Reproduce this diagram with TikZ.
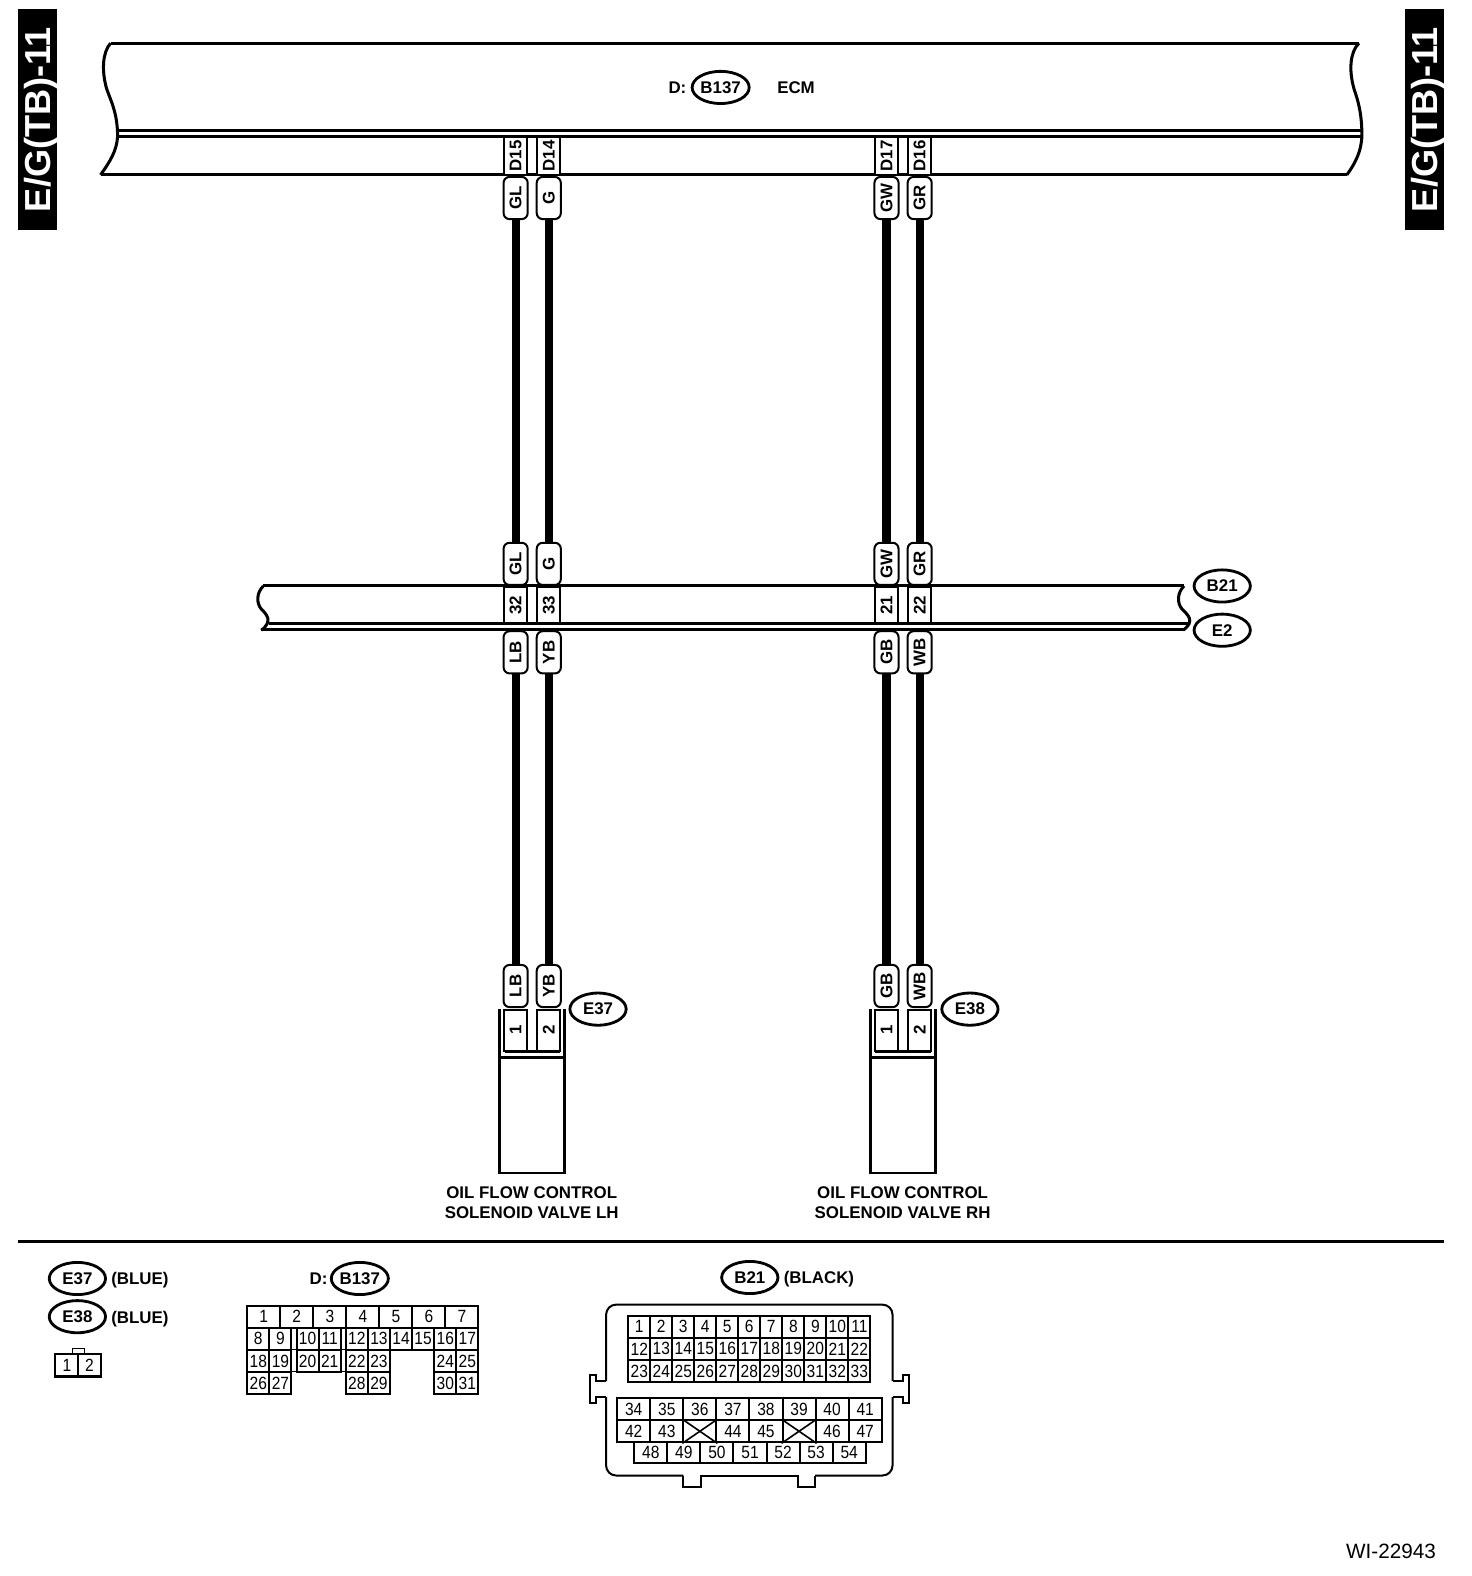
\documentclass[tikz,border=0pt]{standalone}
\usepackage{fontspec}
\setmainfont{Liberation Sans}
\newfontfamily\cellfam[FakeStretch=0.88]{Liberation Sans}
\usetikzlibrary{
  positioning,
  shapes.geometric
}
\newcommand{\lblfont}{\fontsize{8.4}{10}\selectfont\bfseries}
\newcommand{\cellfont}{\cellfam\fontsize{8.8}{10}\selectfont}

\begin{document}
\begin{tikzpicture}[
  x=0.5pt, y=-0.5pt,
  bar/.style={line width=1.5pt},
  frame/.style={line width=1.4pt},
  wire/.style={line width=4pt},
  tagbox/.style={draw, fill=white, line width=1pt, rounded corners=3pt, rotate=90,
                 minimum width=21pt, minimum height=12pt, inner sep=0pt, font=\lblfont},
  pinbox/.style={draw, fill=white, line width=1pt, rotate=90,
                 minimum width=19pt, minimum height=11.5pt, inner sep=0pt, font=\lblfont},
  oval/.style={draw, ellipse, line width=1.4pt, minimum width=28pt, minimum height=16pt,
               inner sep=0pt, font=\lblfont},
  lbl/.style={inner sep=0pt, align=center, font=\lblfont},
  side/.style={fill=black, text=white, rotate=90, minimum width=110pt, minimum height=19.5pt,
               text height=12.9pt, text depth=0pt,
               inner sep=0pt, font=\fontsize{18}{20}\selectfont\bfseries},
  cell/.style={draw, line width=1pt, minimum height=11pt, inner sep=0pt, font=\cellfont}
]
\useasboundingbox (0,0) rectangle (1464.5,1568);

% Side tabs
\node[side] (tabL) at (37.5,119) {E/G(TB)-11};
\node[side] (tabR) at (1417,119) {E/G(TB)-11};

% ECM bar
\draw[bar] (110,43) -- (1352,43);
\draw[bar] (117,130) -- (1355,130);
\draw[bar] (117,136) -- (1355,136);
\draw[bar] (100,174) -- (1340,174);
\draw[bar] (110,43) .. controls (102,52) and (101,70) .. (106,88) .. controls (110,100) and (117,112) .. (117,136) .. controls (116,150) and (110,160) .. (100,174);
\draw[bar] (1352,43) .. controls (1343,52) and (1342,70) .. (1347,88) .. controls (1351,100) and (1355,112) .. (1355,136) .. controls (1354,150) and (1350,160) .. (1340,174);
\node[lbl] (ecmD) at (674,87) {D:};
\node[oval] (ecmB137) at (717,87) {B137};
\node[lbl] (ecm) at (792,87) {ECM};

% Joint bar
\draw[bar] (262,583) -- (1178,583);
\draw[bar] (268,620) -- (1183,620);
\draw[bar] (260,626) -- (1177,626);
\draw[bar] (262,583) .. controls (255,590) and (255,600) .. (260,606) .. controls (265,611) and (272,618) .. (260,627);
\draw[bar] (1178,583) .. controls (1171,590) and (1171,600) .. (1176,606) .. controls (1181,611) and (1190,618) .. (1177,627);
\node[oval] (b21) at (1216,583) {B21};
\node[oval] (e2) at (1216,627) {E2};

% ECM pins
\node[pinbox] (d15) at (513,155) {D15};
\node[pinbox] (d14) at (546,155) {D14};
\node[pinbox] (d17) at (882,155) {D17};
\node[pinbox] (d16) at (915,155) {D16};

% Joint pins
\node[pinbox, minimum width=18pt] (p32) at (513,602) {32};
\node[pinbox, minimum width=18pt] (p33) at (546,602) {33};
\node[pinbox, minimum width=18pt] (p21) at (882,602) {21};
\node[pinbox, minimum width=18pt] (p22) at (915,602) {22};

% Wire tags
\node[tagbox] (gl1) at (513,197) {GL};
\node[tagbox] (g1) at (546,197) {G};
\node[tagbox] (gw1) at (882,197) {GW};
\node[tagbox] (gr1) at (915,197) {GR};
\node[tagbox] (gl2) at (513,561) {GL};
\node[tagbox] (g2) at (546,561) {G};
\node[tagbox] (gw2) at (882,561) {GW};
\node[tagbox] (gr2) at (915,561) {GR};
\node[tagbox] (lb1) at (513,649) {LB};
\node[tagbox] (yb1) at (546,649) {YB};
\node[tagbox] (gb1) at (882,649) {GB};
\node[tagbox] (wb1) at (915,649) {WB};
\node[tagbox] (lb2) at (513,981) {LB};
\node[tagbox] (yb2) at (546,981) {YB};
\node[tagbox] (gb2) at (882,981) {GB};
\node[tagbox] (wb2) at (915,981) {WB};

\draw[wire] (gl1) -- (gl2);
\draw[wire] (g1) -- (g2);
\draw[wire] (gw1) -- (gw2);
\draw[wire] (gr1) -- (gr2);
\draw[wire] (lb1) -- (lb2);
\draw[wire] (yb1) -- (yb2);
\draw[wire] (gb1) -- (gb2);
\draw[wire] (wb1) -- (wb2);

% Solenoid valves
\draw[frame] (497,1004) -- (497,1167) -- (562,1167) -- (562,1004);
\draw[frame] (497,1052) -- (562,1052);
\draw[frame] (502,1046) -- (557,1046);
\node[pinbox, minimum width=20.5pt] (e37a) at (513,1025) {1};
\node[pinbox, minimum width=20.5pt] (e37b) at (546,1025) {2};
\node[oval] (e37) at (595,1004) {E37};
\node[lbl] (valveL) at (529,1197) {OIL FLOW CONTROL\\SOLENOID VALVE LH};

\draw[frame] (866,1004) -- (866,1167) -- (931,1167) -- (931,1004);
\draw[frame] (866,1052) -- (931,1052);
\draw[frame] (871,1046) -- (926,1046);
\node[pinbox, minimum width=20.5pt] (e38a) at (882,1025) {1};
\node[pinbox, minimum width=20.5pt] (e38b) at (915,1025) {2};
\node[oval] (e38) at (965,1004) {E38};
\node[lbl] (valveR) at (898,1197) {OIL FLOW CONTROL\\SOLENOID VALVE RH};

% Separator
\draw[bar] (18,1235) -- (1437,1235);

% Legend E37 / E38
\node[oval] (legE37) at (77,1272) {E37};
\node[lbl, right=2pt of legE37, yshift=-1pt] (legE37txt) {(BLUE)};
\node[oval] (legE38) at (77,1310) {E38};
\node[lbl, right=2pt of legE38, yshift=-1pt] (legE38txt) {(BLUE)};
\node[draw, line width=.6pt, minimum width=6pt, minimum height=3pt, inner sep=0pt] (ctab) at (78,1345) {};
\node[cell, minimum width=11.5pt] (c1) at (66.5,1358.5) {1};
\node[cell, minimum width=11pt] (c2) at (89,1358.5) {2};

% Connector D: B137
\node[lbl] (legD) at (317,1272) {D:};
\node[oval] (legB137) at (358,1272) {B137};
\foreach \n in {1,...,7} {
  \pgfmathsetmacro\cx{246+32.86*(\n-0.5)}
  \node[cell, minimum width=16.43pt] (t\n) at (\cx,1310) {\n};
}
\foreach \n/\cx/\cy in {8/257/1332, 9/279/1332, 10/306/1332, 11/328/1332, 12/355/1332, 13/377/1332,
    14/399/1332, 15/421/1332, 16/443/1332, 17/465/1332,
    18/257/1354, 19/279/1354, 20/306/1354, 21/328/1354, 22/355/1354, 23/377/1354, 24/443/1354, 25/465/1354,
    26/257/1376, 27/279/1376, 28/355/1376, 29/377/1376, 30/443/1376, 31/465/1376} {
  \node[cell, minimum width=11pt] (t\n) at (\cx,\cy) {\n};
}
\foreach \cx/\cy/\g in {292.5/1332/a, 341.5/1332/b, 292.5/1354/c, 341.5/1354/d} {
  \node[cell, line width=.5pt, minimum width=2.5pt] (gap\g) at (\cx,\cy) {};
}

% Connector B21
\node[oval] (legB21) at (746,1271) {B21};
\node[lbl, right=2pt of legB21, yshift=-1pt] (legB21txt) {(BLACK)};
\draw[frame, line width=1pt, rounded corners=5pt] (603,1374) -- (603,1298) -- (888,1298) -- (888,1374);
\draw[frame, line width=1pt, rounded corners=5pt] (603,1390) -- (603,1468) -- (680,1468);
\draw[frame, line width=1pt, rounded corners=5pt] (888,1390) -- (888,1468) -- (811,1468);
\draw[frame, line width=1pt] (603,1374) -- (593,1374) -- (593,1368) -- (587,1368) -- (587,1396) -- (593,1396) -- (593,1390) -- (603,1390);
\draw[frame, line width=1pt] (888,1374) -- (898,1374) -- (898,1368) -- (904,1368) -- (904,1396) -- (898,1396) -- (898,1390) -- (888,1390);
\draw[frame, line width=1pt] (680,1468) -- (680,1479) -- (697,1479) -- (697,1468) -- (794,1468) -- (794,1479) -- (811,1479) -- (811,1468);

\foreach \f/\cy in {1/1320, 12/1342, 23/1364} {
  \foreach \c in {0,...,10} {
    \pgfmathtruncatemacro\n{\f+\c}
    \pgfmathsetmacro\cx{636+21.9*\c}
    \node[cell, minimum width=10.95pt] (b\n) at (\cx,\cy) {\n};
  }
}
\foreach \c in {0,...,7} {
  \pgfmathtruncatemacro\n{34+\c}
  \pgfmathsetmacro\cx{630.5+32.9*\c}
  \node[cell, minimum width=16.45pt] (b\n) at (\cx,1402) {\n};
}
\foreach \c/\n in {0/42, 1/43, 3/44, 4/45, 6/46, 7/47} {
  \pgfmathsetmacro\cx{630.5+32.9*\c}
  \node[cell, minimum width=16.45pt] (b\n) at (\cx,1424) {\n};
}
\foreach \c/\g in {2/a, 5/b} {
  \pgfmathsetmacro\cx{630.5+32.9*\c}
  \node[cell, minimum width=16.45pt] (void\g) at (\cx,1424) {};
  \draw[line width=.8pt] (void\g.north west) -- (void\g.south east);
  \draw[line width=.8pt] (void\g.north east) -- (void\g.south west);
}
\foreach \c in {0,...,6} {
  \pgfmathtruncatemacro\n{48+\c}
  \pgfmathsetmacro\cx{647.5+32.9*\c}
  \node[cell, minimum width=16.45pt, minimum height=10.5pt] (b\n) at (\cx,1445.5) {\n};
}

% Figure number
\node[inner sep=0pt, anchor=east, font=\fontsize{10.3}{12}\selectfont] (wi) at (1429,1543) {WI-22943};
\end{tikzpicture}
\end{document}
